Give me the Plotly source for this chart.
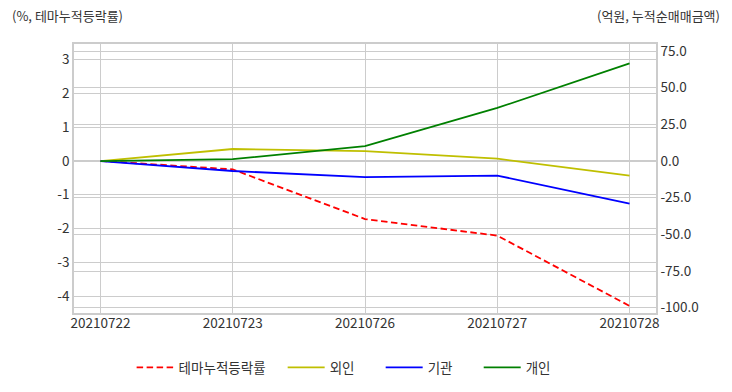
import plotly.graph_objects as go

dates = ["20210722", "20210723", "20210726", "20210727", "20210728"]
theme_rate = [0.0, -0.25, -1.72, -2.21, -4.29]
foreign = [0.0, 8.2, 6.8, 1.6, -10.0]
institution = [0.0, -6.8, -10.9, -9.9, -29.1]
individual = [0.0, 1.3, 10.2, 36.2, 66.6]

left_ticks = [3, 2, 1, 0, -1, -2, -3, -4]
left_ticktext = ["3", "2", "1", "0", "-1", "-2", "-3", "-4"]
right_ticks = [75, 50, 25, 0, -25, -50, -75, -100]
right_ticktext = ["75.0", "50.0", "25.0", "0.0", "-25.0", "-50.0", "-75.0", "-100.0"]

FONT = "Noto Sans CJK KR, Malgun Gothic, sans-serif"
GRID = "#cccccc"
TXT = "#333333"
NB = "\u00a0"

fig = go.Figure()
fig.add_trace(go.Scatter(x=dates, y=theme_rate, name="테마누적등락률" + NB * 4, mode="lines",
                         line=dict(color="#ff0000", width=1.8, dash="6.5px,3.5px"), yaxis="y"))
fig.add_trace(go.Scatter(x=dates, y=foreign, name="외인" + NB * 7, mode="lines",
                         line=dict(color="#bfbf00", width=1.8), yaxis="y2"))
fig.add_trace(go.Scatter(x=dates, y=institution, name="기관" + NB * 7, mode="lines",
                         line=dict(color="#0000ff", width=1.8), yaxis="y2"))
fig.add_trace(go.Scatter(x=dates, y=individual, name="개인", mode="lines",
                         line=dict(color="#008000", width=1.8), yaxis="y2"))

fig.update_layout(
    template="none",
    width=732, height=392,
    margin=dict(l=74, r=76, t=44, b=79, autoexpand=False),
    paper_bgcolor="white", plot_bgcolor="white",
    font=dict(family=FONT, size=13.5, color=TXT),
    showlegend=True,
    legend=dict(orientation="h", x=0.099, xanchor="left", y=-0.145, yanchor="top",
                itemwidth=37, font=dict(size=13.5, color=TXT), traceorder="normal"),
    xaxis=dict(type="category", range=[-0.2, 4.2], showgrid=True, gridcolor=GRID, gridwidth=1.2,
               showline=True, linecolor=GRID, linewidth=1.5, mirror=True, ticks="",
               ticklabelstandoff=-3,
               automargin=False, tickfont=dict(size=13.5, color=TXT), zeroline=False),
    yaxis=dict(range=[-4.5, 3.46], tickvals=left_ticks, ticktext=left_ticktext,
               showgrid=True, gridcolor=GRID, gridwidth=1.2, zeroline=False, automargin=False,
               showline=True, linecolor=GRID, linewidth=1.5, mirror=True, ticks="",
               tickfont=dict(size=13.5, color=TXT)),
    yaxis2=dict(range=[-103.6, 79.8], tickvals=right_ticks, ticktext=right_ticktext,
                overlaying="y", side="right", showgrid=True, gridcolor=GRID, gridwidth=1.2,
                zeroline=False, showline=True, linecolor=GRID, linewidth=1.5, ticks="",
                automargin=False, tickfont=dict(size=13.5, color=TXT)),
    annotations=[
        dict(text="(%, 테마누적등락률)", xref="paper", yref="paper", x=-0.110, y=1.107,
             xanchor="left", yanchor="middle", showarrow=False, font=dict(size=13, color=TXT)),
        dict(text="(억원, 누적순매매금액)", xref="paper", yref="paper", x=1.1134, y=1.107,
             xanchor="right", yanchor="middle", showarrow=False, font=dict(size=13, color=TXT)),
    ],
)

post = (
    "document.documentElement.style.margin='0';"
    "document.body.style.margin='0';document.body.style.padding='0';"
    "document.body.style.overflow='hidden';document.documentElement.style.overflow='hidden';"
    "var gd=document.getElementById('{plot_id}');"
    "gd.style.width='732px';gd.style.height='392px';"
    "Plotly.relayout(gd,{width:732,height:392});"
)

fig.write_html("out.html", post_script=post, config={"displayModeBar": False})
